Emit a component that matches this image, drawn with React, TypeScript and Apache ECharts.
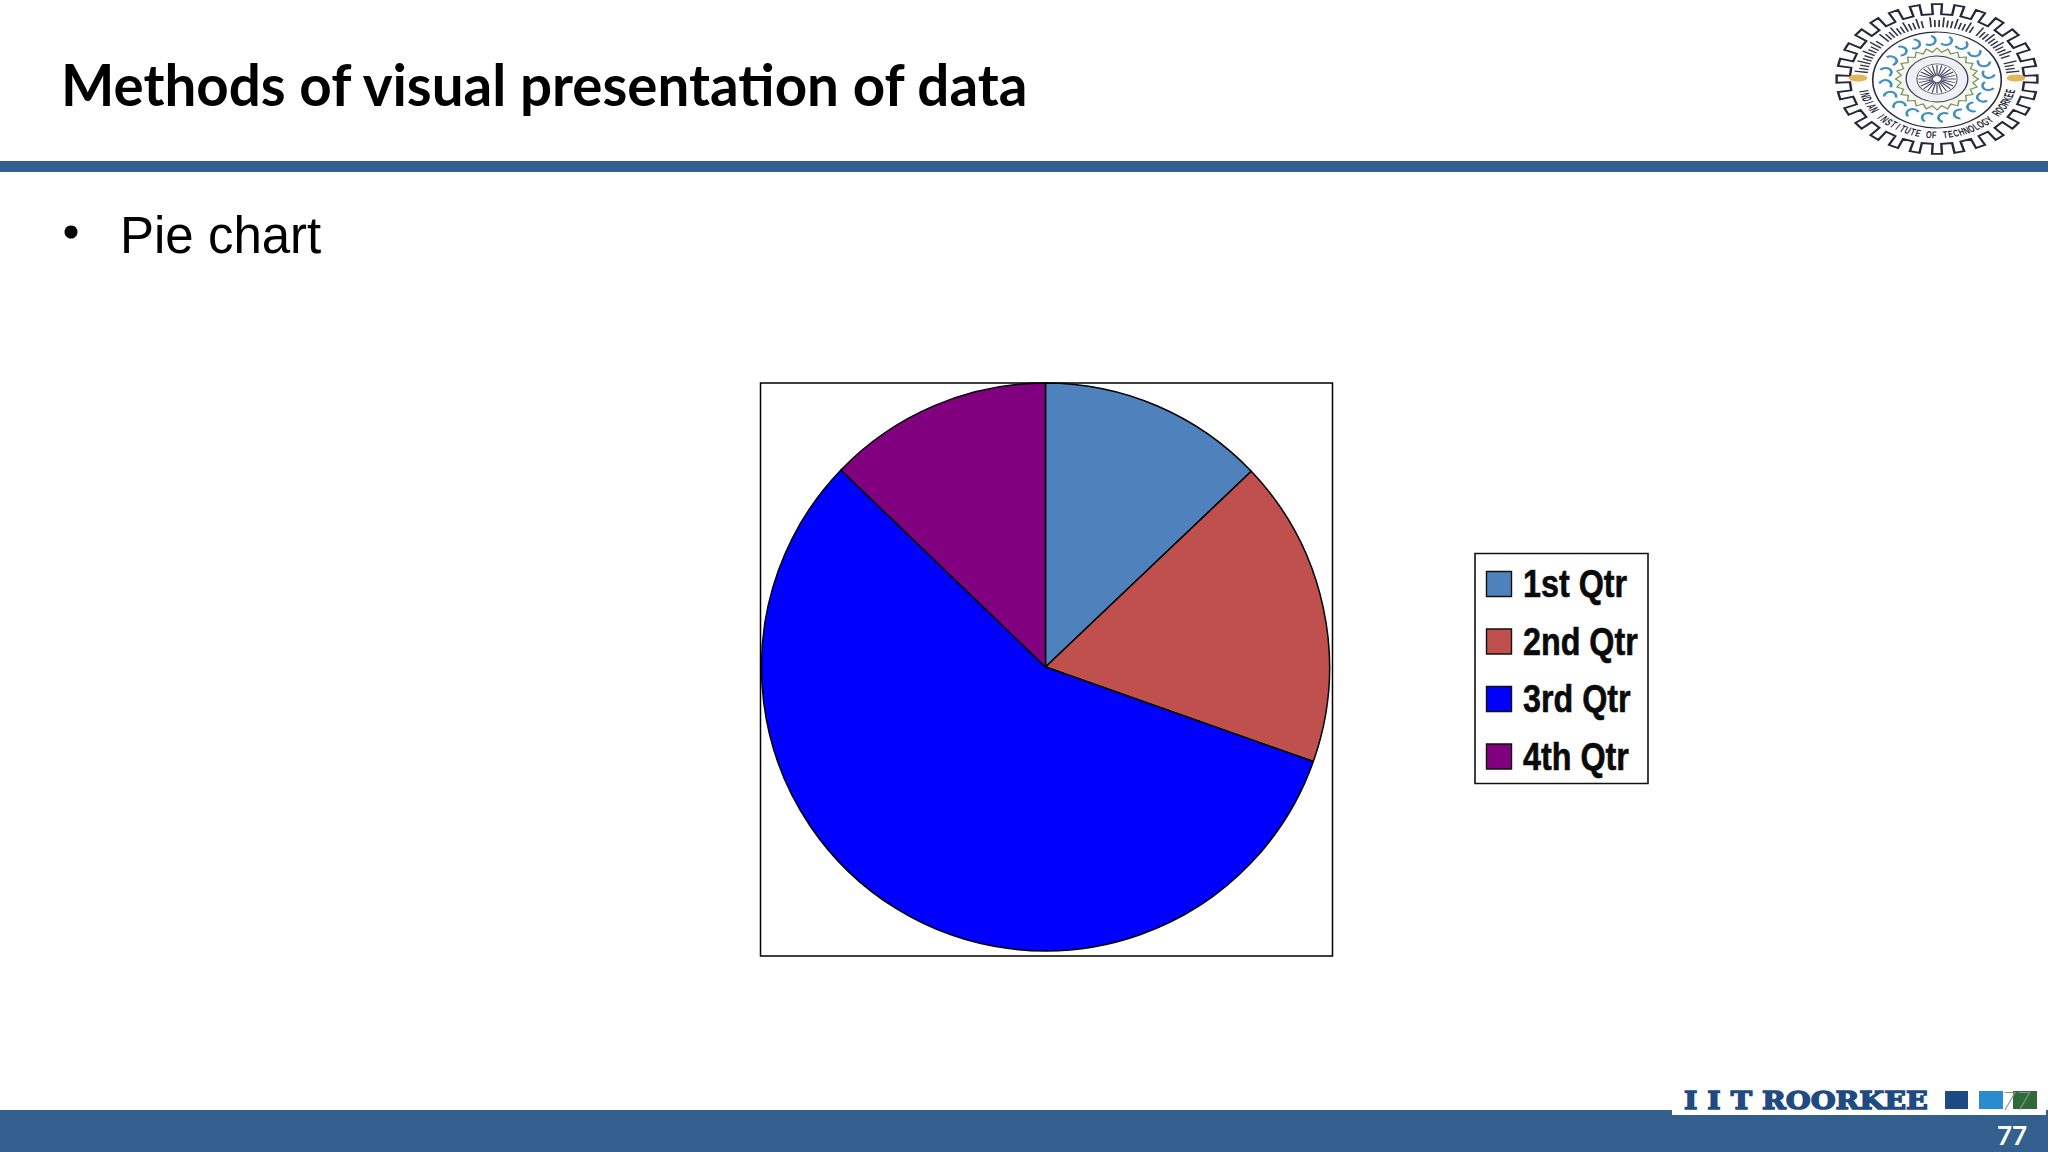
import React, { useEffect, useRef } from "react";
import * as echarts from "echarts";

const categories = ["1st Qtr", "2nd Qtr", "3rd Qtr", "4th Qtr"];
const values = [12.9, 17.5, 56.8, 12.8];
const sliceColors = ["#4f81bd", "#c0504d", "#0000ff", "#800080"];
const titleText = "Methods of visual presentation of data";
const bulletText = "Pie chart";
const pageNumber = "77";
const footerText = "I I T ROORKEE";
const logoBottomText = "INDIAN INSTITUTE OF TECHNOLOGY ROORKEE";

const BAR = "#34608f";

function logoElements() {
  const R = 76;
  const els: any[] = [];
  const teeth = 28;
  const pts: number[][] = [];
  for (let i = 0; i < teeth; i++) {
    const step = (Math.PI * 2) / teeth;
    const a = i * step;
    const outer = R - 1;
    const inner = R - 11;
    pts.push([Math.cos(a - step * 0.22) * inner, Math.sin(a - step * 0.22) * inner]);
    pts.push([Math.cos(a - step * 0.22) * outer, Math.sin(a - step * 0.22) * outer]);
    pts.push([Math.cos(a + step * 0.22) * outer, Math.sin(a + step * 0.22) * outer]);
    pts.push([Math.cos(a + step * 0.22) * inner, Math.sin(a + step * 0.22) * inner]);
  }
  els.push({ type: "polygon", shape: { points: pts }, style: { fill: "#fff", stroke: "#26263a", lineWidth: 1.8 } });
  els.push({ type: "circle", shape: { cx: 0, cy: 1, r: 48 }, style: { fill: "#fff", stroke: "#2a2a3a", lineWidth: 1.2 } });
  const n = logoBottomText.length;
  [...logoBottomText].forEach((ch, i) => {
    const a = Math.PI * (0.93 - (i / (n - 1)) * 0.86);
    const r = 56;
    els.push({
      type: "text",
      x: Math.cos(a) * r,
      y: Math.sin(a) * r,
      rotation: Math.PI / 2 - a,
      scaleX: 0.55,
      style: { text: ch, fill: "#26263a", font: "bold 10px 'Liberation Sans'", align: "center", verticalAlign: "middle" },
    });
  });
  for (let i = 0; i < 52; i++) {
    const a = Math.PI * (1.04 + (i / 51) * 0.92);
    if (i % 12 === 11) continue;
    const top = i % 3 ? 59 : 62;
    els.push({
      type: "line",
      shape: { x1: Math.cos(a) * 52, y1: Math.sin(a) * 52, x2: Math.cos(a) * top, y2: Math.sin(a) * top },
      style: { stroke: "#33334a", lineWidth: 1.3 },
    });
  }
  for (let i = 0; i < 20; i++) {
    const a = (i / 20) * Math.PI * 2 + 0.17;
    const cx = Math.cos(a) * 39;
    const cy = Math.sin(a) * 39;
    els.push({ type: "arc", shape: { cx, cy, r: 4.5, startAngle: a + 0.4, endAngle: a + 3.9 }, style: { stroke: "#3f8fc2", fill: "none", lineWidth: 2 } });
  }
  const star: number[][] = [];
  for (let i = 0; i < 48; i++) {
    const a = (i / 48) * Math.PI * 2;
    const r = i % 2 ? 27 : 31;
    star.push([Math.cos(a) * r, Math.sin(a) * r]);
  }
  els.push({ type: "polygon", shape: { points: star }, style: { fill: "#f4f7ee", stroke: "#6f8f55", lineWidth: 1 } });
  els.push({ type: "circle", shape: { cx: 0, cy: 0, r: 23 }, style: { fill: "#eef0f4", stroke: "#3a3a55", lineWidth: 1 } });
  els.push({ type: "circle", shape: { cx: 0, cy: 0, r: 15 }, style: { fill: "#fff", stroke: "#55556a", lineWidth: 0.8 } });
  for (let i = 0; i < 24; i++) {
    const a = (i / 24) * Math.PI * 2;
    els.push({
      type: "line",
      shape: { x1: Math.cos(a) * 3, y1: Math.sin(a) * 3, x2: Math.cos(a) * 14, y2: Math.sin(a) * 14 },
      style: { stroke: "#40405e", lineWidth: 0.9 },
    });
  }
  [-59, 59].forEach((x) => {
    els.push({ type: "ellipse", shape: { cx: x, cy: -1, rx: 7, ry: 3.5 }, style: { fill: "#e0b65a" } });
  });
  return els;
}

function legendElements() {
  const els: any[] = [
    { type: "rect", z: 4, shape: { x: 1475, y: 553.5, width: 173, height: 230 }, style: { fill: "#fff", stroke: "#111", lineWidth: 1.6 } },
  ];
  categories.forEach((name, i) => {
    const cy = 584 + i * 57.5;
    els.push({ type: "rect", z: 5, shape: { x: 1486.5, y: cy - 12.5, width: 25, height: 25 }, style: { fill: sliceColors[i], stroke: "#111", lineWidth: 1.4 } });
    els.push({ type: "text", z: 5, x: 1523, y: cy, scaleX: 0.85, style: { text: name, fill: "#0a0a0a", stroke: "#0a0a0a", lineWidth: 0.6, font: "bold 38px 'Liberation Sans'", align: "left", verticalAlign: "middle" } });
  });
  return els;
}

export default function App() {
  const ref = useRef<HTMLDivElement>(null);
  useEffect(() => {
    document.body.style.margin = "0";
    document.body.style.overflow = "hidden";
    const chart = echarts.init(ref.current!, undefined, { renderer: "svg" });
    chart.setOption({
      animation: false,
      backgroundColor: "#ffffff",
      series: [
        {
          type: "pie",
          center: [1045.5, 667],
          radius: 284,
          startAngle: 90,
          clockwise: true,
          silent: true,
          label: { show: false },
          labelLine: { show: false },
          itemStyle: { borderColor: "#000", borderWidth: 1.5 },
          data: categories.map((name, i) => ({ name, value: values[i], itemStyle: { color: sliceColors[i] } })),
        },
      ],
      graphic: [
        { type: "rect", z: -10, shape: { x: 760.5, y: 383, width: 572, height: 573 }, style: { fill: "#fff", stroke: "#000", lineWidth: 1.5 } },
        { type: "rect", z: -5, shape: { x: 0, y: 161, width: 2048, height: 11 }, style: { fill: BAR } },
        { type: "rect", z: -5, shape: { x: 0, y: 1110, width: 2048, height: 42 }, style: { fill: BAR } },
        { type: "rect", z: -4, shape: { x: 1672, y: 1070, width: 374, height: 45 }, style: { fill: "#fff" } },
        { type: "text", z: 5, x: 61, y: 84, style: { text: titleText, fill: "#000", font: "bold 56.5px Lato", align: "left", verticalAlign: "middle" } },
        { type: "circle", z: 5, shape: { cx: 71, cy: 232, r: 6.5 }, style: { fill: "#000" } },
        { type: "text", z: 5, x: 120, y: 235, style: { text: bulletText, fill: "#000", font: "51px 'Liberation Sans'", align: "left", verticalAlign: "middle" } },
        { type: "text", z: 5, x: 1684, y: 1100, scaleX: 1.145, style: { text: footerText, fill: "#1f4a82", stroke: "#1f4a82", lineWidth: 1.4, font: "bold 25px 'DejaVu Serif'", align: "left", verticalAlign: "middle" } },
        { type: "rect", z: 5, shape: { x: 1945, y: 1091, width: 23, height: 18 }, style: { fill: "#1d4a85" } },
        { type: "rect", z: 5, shape: { x: 1979, y: 1091, width: 24, height: 18 }, style: { fill: "#2a8bd0" } },
        { type: "rect", z: 5, shape: { x: 2013, y: 1091, width: 24, height: 18 }, style: { fill: "#2f6b3a" } },
        { type: "text", z: 6, x: 2016, y: 1100, style: { text: pageNumber, fill: "#8a958a", font: "italic 300 25px Lato", align: "center", verticalAlign: "middle" } },
        { type: "text", z: 6, x: 2012, y: 1135, style: { text: pageNumber, fill: "#fff", font: "bold 26px Lato", align: "center", verticalAlign: "middle" } },
        { type: "group", z: 5, x: 1937, y: 79, scaleX: 1.34, scaleY: 1, children: logoElements() },
        ...legendElements(),
      ],
    });
    return () => chart.dispose();
  }, []);
  return <div ref={ref} style={{ position: "absolute", left: 0, top: 0, width: 2048, height: 1152 }} />;
}
